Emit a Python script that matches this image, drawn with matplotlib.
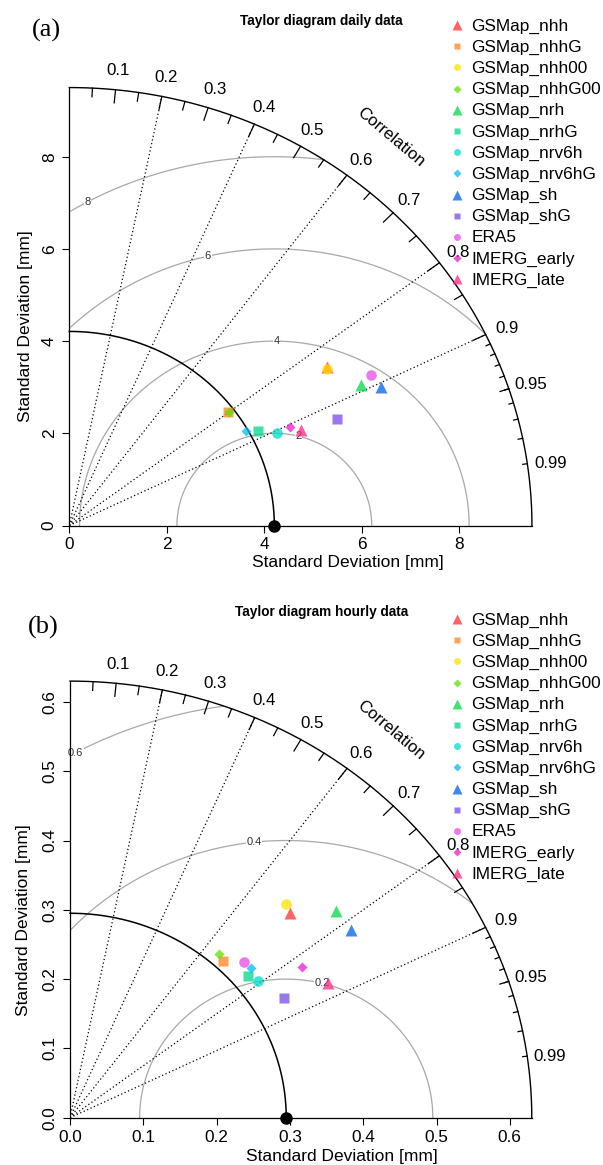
import numpy as np
import matplotlib
matplotlib.use('Agg')
import matplotlib.pyplot as plt
from matplotlib.lines import Line2D
from matplotlib.transforms import offset_copy

plt.rcParams['font.family'] = ['Liberation Sans', 'DejaVu Sans']

# Products shown in both diagrams
names = ['GSMap_nhh', 'GSMap_nhhG', 'GSMap_nhh00', 'GSMap_nhhG00', 'GSMap_nrh',
         'GSMap_nrhG', 'GSMap_nrv6h', 'GSMap_nrv6hG', 'GSMap_sh', 'GSMap_shG',
         'ERA5', 'IMERG_early', 'IMERG_late']
markers = ['^', 's', 'o', 'D', '^', 's', 'o', 'D', '^', 's', 'o', 'D', '^']
colors = ['#FF3030', '#FF831C', '#FFE100', '#5FE100', '#00D74A', '#00D888', '#00DDCC',
          '#00BBF0', '#0060E9', '#774AE9', '#E94AE9', '#E91CD3', '#FF2483']

# Daily data: standard deviation [mm] and correlation of each product
daily_sd = [6.30, 4.094, 6.283, 4.092, 6.722, 4.379, 4.711, 4.169, 7.073, 5.952, 7.003, 5.010, 5.181]
daily_cor = [0.839, 0.797, 0.842, 0.799, 0.891, 0.884, 0.904, 0.871, 0.906, 0.922, 0.885, 0.904, 0.917]
daily_ref_sd = 4.21
daily_max_sd = 9.5
daily_gamma = [2, 4, 6, 8]
daily_ticks = [0, 2, 4, 6, 8]
daily_ticklabels = ['0', '2', '4', '6', '8']

# Hourly data
hourly_sd = [0.4208, 0.3083, 0.4263, 0.3113, 0.4703, 0.3171, 0.3237, 0.3275, 0.4692, 0.3394, 0.3271, 0.3847, 0.4019]
hourly_cor = [0.713, 0.678, 0.691, 0.652, 0.772, 0.764, 0.794, 0.753, 0.816, 0.860, 0.726, 0.824, 0.876]
hourly_ref_sd = 0.295
hourly_max_sd = 0.63
hourly_gamma = [0.2, 0.4, 0.6]
hourly_ticks = [0, 0.1, 0.2, 0.3, 0.4, 0.5, 0.6]
hourly_ticklabels = ['0.0', '0.1', '0.2', '0.3', '0.4', '0.5', '0.6']

corr_lines = [0.2, 0.4, 0.6, 0.8, 0.9]
corr_labels = [0.1, 0.2, 0.3, 0.4, 0.5, 0.6, 0.7, 0.8, 0.9, 0.95, 0.99]

msize = {'^': 9, 's': 7.2, 'o': 7.6, 'D': 4.8}
leg_msize = {'^': 6.5, 's': 5, 'o': 5, 'D': 3.6}
ALPHA = 0.75

W, H = 603, 1165
fig = plt.figure(figsize=(W / 100, H / 100), dpi=100)


def fx(x):
    return x / W


def fy(y):
    return 1 - y / H


def taylor(ax, sd, cor, ref_sd, max_sd, gammas, ticks, ticklabels):
    ax.set_facecolor('none')
    ax.set_xlim(0, max_sd)
    ax.set_ylim(0, max_sd)
    for s in ['top', 'right']:
        ax.spines[s].set_visible(False)
    for s in ['left', 'bottom']:
        ax.spines[s].set_linewidth(0.9)
    ax.set_xticks(ticks)
    ax.set_xticklabels(ticklabels)
    ax.set_yticks(ticks)
    ax.set_yticklabels(ticklabels)
    ax.tick_params(axis='x', length=5, width=0.8, pad=3.5, labelsize=12.4)
    ax.tick_params(axis='y', length=5, width=0.8, pad=4, labelsize=12.4)
    for lab in ax.get_yticklabels():
        lab.set_rotation(90)
        lab.set_va('center')

    low = offset_copy(ax.transData, fig=fig, x=0, y=-3, units='dots')

    # centred RMS difference arcs
    t = np.linspace(0, np.pi, 1500)
    lpos = np.linspace(45, 70, len(gammas)).astype(int) - 1
    for i, g in enumerate(gammas):
        xc = ref_sd + g * np.cos(t)
        yc = g * np.sin(t)
        keep = (xc >= 0) & (xc ** 2 + yc ** 2 <= max_sd ** 2)
        ax.plot(xc[keep], yc[keep], color='#a8a8a8', lw=0.9, zorder=1)
        a = lpos[i] * 0.03
        lx, ly = ref_sd + g * np.cos(a), g * np.sin(a)
        if lx > 0:
            ax.text(lx, ly, f'{g:g}', fontsize=8, color='#303030', ha='center', va='center',
                    bbox=dict(fc='white', ec='none', pad=0.3), zorder=2)

    # correlation lines
    for c in corr_lines:
        ax.plot([0, max_sd * c], [0, max_sd * np.sqrt(1 - c ** 2)], color='black',
                lw=0.9, ls=(0, (1, 2)), zorder=1)

    # outer arc and reference arc
    th = np.linspace(0, np.pi / 2, 300)
    ax.plot(max_sd * np.cos(th), max_sd * np.sin(th), color='black', lw=1, clip_on=False)
    ax.plot(ref_sd * np.cos(th), ref_sd * np.sin(th), color='black', lw=1.1, clip_on=False)

    # ticks on the outer arc
    for vals, frac in [(np.arange(0.1, 0.91, 0.1), 0.97), (np.arange(0.05, 0.96, 0.1), 0.98),
                       (np.arange(0.91, 0.995, 0.01), 0.99)]:
        for a in np.arccos(vals):
            ax.plot([np.cos(a) * max_sd, np.cos(a) * frac * max_sd],
                    [np.sin(a) * max_sd, np.sin(a) * frac * max_sd], color='black', lw=0.9,
                    clip_on=False)
    for c in corr_labels:
        a = np.arccos(c)
        ax.text(np.cos(a) * 1.05 * max_sd, np.sin(a) * 1.05 * max_sd, f'{c:g}', fontsize=12.2,
                ha='center', va='center', clip_on=False, transform=low)
    ax.text(0.694 * max_sd, 0.887 * max_sd, 'Correlation', fontsize=12.2, rotation=-40,
            ha='center', va='center', rotation_mode='anchor')

    # reference point
    ax.plot(ref_sd, 0, 'o', color='black', ms=8, clip_on=False, zorder=6)

    # products
    for i in range(len(sd)):
        a = np.arccos(cor[i])
        ax.plot(sd[i] * np.cos(a), sd[i] * np.sin(a), marker=markers[i], ms=msize[markers[i]],
                color=colors[i], alpha=ALPHA, mec='none', ls='none', clip_on=False, zorder=5)


def legend(y0):
    for i, name in enumerate(names):
        y = y0 + 21.2 * i
        fig.add_artist(Line2D([fx(457)], [fy(y)], marker=markers[i], ms=leg_msize[markers[i]],
                              color=colors[i], alpha=ALPHA, mec='none', ls='none',
                              transform=fig.transFigure))
        fig.text(fx(471.5), fy(y + 1), name, fontsize=12.4, va='center', ha='left')


# (a) daily
ax1 = fig.add_axes([fx(69.3), fy(525.5), 9.5 * 48.7 / W, 9.5 * 46.1 / H])
taylor(ax1, daily_sd, daily_cor, daily_ref_sd, daily_max_sd, daily_gamma,
       daily_ticks, daily_ticklabels)
fig.text(fx(321), fy(21), 'Taylor diagram daily data', fontsize=9.8, weight='bold',
         ha='center', va='center')
fig.text(fx(46), fy(30), '(a)', fontsize=19, family='Liberation Serif', ha='center', va='center')
fig.text(fx(348), fy(563), 'Standard Deviation [mm]', fontsize=12.5, ha='center', va='center')
fig.text(fx(26), fy(326), 'Standard Deviation [mm]', fontsize=12.5, ha='center', va='center',
         rotation=90)
legend(25)

# (b) hourly
ax2 = fig.add_axes([fx(70), fy(1117.7), 0.63 * 733 / W, 0.63 * 693 / H])
taylor(ax2, hourly_sd, hourly_cor, hourly_ref_sd, hourly_max_sd, hourly_gamma,
       hourly_ticks, hourly_ticklabels)
fig.text(fx(322), fy(612), 'Taylor diagram hourly data', fontsize=9.8, weight='bold',
         ha='center', va='center')
fig.text(fx(43.5), fy(627), '(b)', fontsize=19, family='Liberation Serif', ha='center', va='center')
fig.text(fx(342), fy(1156), 'Standard Deviation [mm]', fontsize=12.5, ha='center', va='center')
fig.text(fx(24), fy(920), 'Standard Deviation [mm]', fontsize=12.5, ha='center', va='center',
         rotation=90)
legend(619)

fig.savefig('out.png', dpi=100)
